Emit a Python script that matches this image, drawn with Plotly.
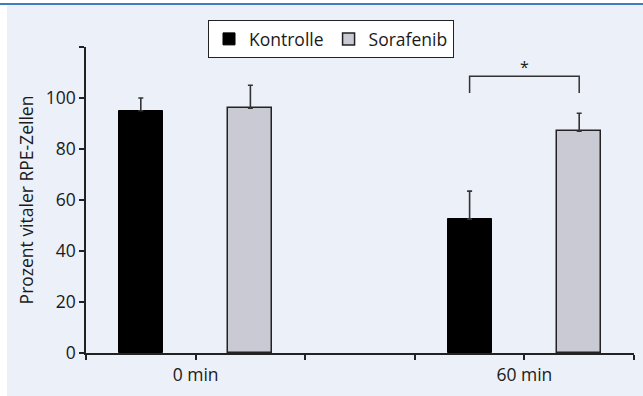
import plotly.graph_objects as go

# Data
groups = ["0 min", "60 min"]
group_pos = [1, 4]
series_names = ["Kontrolle", "Sorafenib"]
kontrolle = [95, 52.5]
kontrolle_err = [5, 11]
sorafenib = [96, 87]
sorafenib_err = [9, 7]
y_ticks = [0, 20, 40, 60, 80, 100, 120]
y_ticklabels = ["0", "20", "40", "60", "80", "100", ""]

W, H = 643, 396
M_L, M_R, M_T, M_B = 86, 9, 47, 43
PW, PH = W - M_L - M_R, H - M_T - M_B

def px_x(p):
    return (p - M_L) / PW

def px_y(p):
    return (H - M_B - p) / PH

FONT = "Open Sans, Noto Sans, sans-serif"
FS = 17.5
INK = "#1a1a1a"

fig = go.Figure()

offset = 0.5
bar_w = 0.4
fig.add_trace(go.Bar(
    name=series_names[0],
    x=[g - offset for g in group_pos], y=kontrolle, width=bar_w,
    marker=dict(color="#000000", line=dict(color="#000000", width=1)),
    error_y=dict(type="data", symmetric=False, array=kontrolle_err,
                 arrayminus=[0] * len(kontrolle), color="#333333",
                 thickness=1.6, width=2.5),
))
fig.add_trace(go.Bar(
    name=series_names[1],
    x=[g + offset for g in group_pos], y=sorafenib, width=bar_w,
    marker=dict(color="#C9CAD4", line=dict(color="#222222", width=1.5)),
    error_y=dict(type="data", symmetric=False, array=sorafenib_err,
                 arrayminus=[0] * len(sorafenib), color="#333333",
                 thickness=1.6, width=2.5),
))

# significance bracket between the two 60 min bars
i = 1
xa, xb = group_pos[i] - offset, group_pos[i] + offset
leg_lo = max(kontrolle[i] + kontrolle_err[i], sorafenib[i] + sorafenib_err[i]) + 8
leg_hi = leg_lo + 6.5
fig.add_shape(type="path", xref="x", yref="y",
              path=f"M {xa},{leg_lo} L {xa},{leg_hi} L {xb},{leg_hi} L {xb},{leg_lo}",
              line=dict(color="#333333", width=1.5))
fig.add_annotation(x=(xa + xb) / 2, y=leg_hi, text="*", showarrow=False,
                   xref="x", yref="y", yanchor="bottom", yshift=-4,
                   font=dict(family=FONT, size=16, color=INK))

# frame: white strip at the left and a blue rule along the top
fig.add_shape(type="rect", xref="paper", yref="paper", layer="below",
              x0=px_x(0), x1=px_x(7), y0=px_y(H), y1=px_y(0),
              fillcolor="white", line=dict(width=0))
fig.add_shape(type="rect", xref="paper", yref="paper", layer="below",
              x0=px_x(0), x1=px_x(W), y0=px_y(3), y1=px_y(0),
              fillcolor="white", line=dict(width=0))
fig.add_shape(type="line", xref="paper", yref="paper",
              x0=px_x(0), x1=px_x(W), y0=px_y(4), y1=px_y(4),
              line=dict(color="#3D7DC0", width=2))

fig.update_layout(
    width=W, height=H,
    margin=dict(l=M_L, r=M_R, t=M_T, b=M_B, pad=0),
    paper_bgcolor="#ECF0F9", plot_bgcolor="#ECF0F9",
    font=dict(family=FONT, size=FS, color=INK),
    showlegend=True,
    legend=dict(orientation="h", x=px_x(208), y=px_y(20),
                xanchor="left", yanchor="top",
                bgcolor="white", bordercolor="#222222", borderwidth=1,
                font=dict(family=FONT, size=FS, color=INK),
                itemwidth=30, tracegroupgap=0),
    bargap=0,
)
fig.update_xaxes(
    range=[0, 5], tickmode="array", tickvals=[0, 1, 2, 3, 4, 5],
    ticktext=["", groups[0], "", "", groups[1], ""],
    ticks="outside", ticklen=5, tickwidth=1.5, tickcolor="#222222",
    showline=True, linecolor="#222222", linewidth=1.5,
    showgrid=False, zeroline=False, fixedrange=True,
)
fig.update_yaxes(
    range=[0, 120], tickmode="array", tickvals=y_ticks, ticktext=y_ticklabels,
    ticks="outside", ticklen=5, tickwidth=1.5, tickcolor="#222222",
    showline=True, linecolor="#222222", linewidth=1.5,
    showgrid=False, zeroline=False, fixedrange=True,
    title=dict(text="Prozent vitaler RPE-Zellen", standoff=8,
               font=dict(family=FONT, size=FS, color=INK)),
)

fig.write_html("out.html", config={"displayModeBar": False})
